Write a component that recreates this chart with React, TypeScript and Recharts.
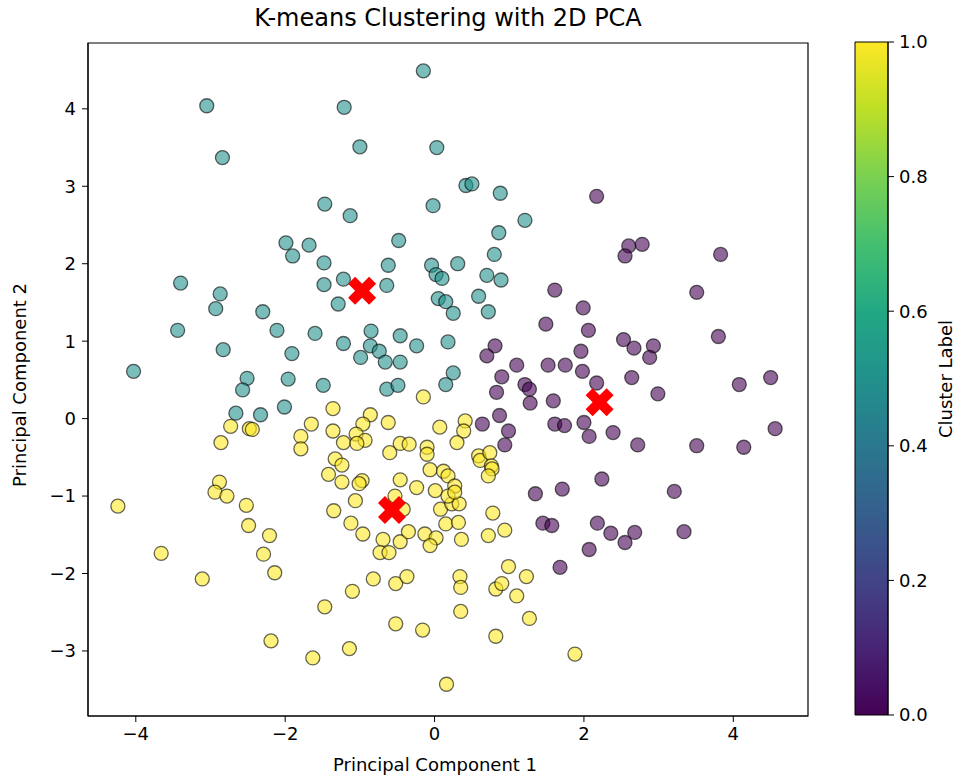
import React from 'react';
import {
  ScatterChart, Scatter, XAxis, YAxis, ReferenceArea,
  BarChart, Bar,
} from 'recharts';

// (PC1, PC2)
const purplePts: number[][] = [
  [1.61, 1.66], [1.49, 1.22], [0.81, 0.94], [0.70, 0.81], [1.10, 0.69], [1.52, 0.69], [1.75, 0.69],
  [0.90, 0.54], [1.21, 0.44], [1.27, 0.38], [0.83, 0.34], [1.28, 0.20], [1.59, 0.23], [0.87, 0.04],
  [0.64, -0.07], [0.99, -0.16], [0.94, -0.34], [1.61, -0.07], [1.74, -0.09], [1.35, -0.97], [1.71, -0.91],
  [3.51, 1.63], [1.99, 1.43], [2.06, 1.14], [2.53, 1.02], [2.67, 0.91], [2.93, 0.94], [2.88, 0.79],
  [3.80, 1.06], [1.96, 0.87], [1.98, 0.61], [2.17, 0.46], [2.64, 0.53], [2.99, 0.32], [4.08, 0.44],
  [4.50, 0.53], [2.00, -0.05], [2.07, -0.23], [2.39, -0.18], [2.72, -0.34], [3.51, -0.35], [4.14, -0.37],
  [4.56, -0.13], [2.24, -0.78], [3.21, -0.94], [2.17, 2.87], [2.60, 2.23], [2.55, 2.10], [2.78, 2.25],
  [3.83, 2.12], [2.18, -1.35], [2.36, -1.48], [2.68, -1.47], [2.55, -1.60], [2.07, -1.69], [3.34, -1.46],
  [1.68, -1.92], [1.45, -1.35], [1.57, -1.38],
];

const tealPts: number[][] = [
  [-0.15, 4.49], [-3.05, 4.04], [-2.84, 3.37], [-1.21, 4.02], [-1.00, 3.51], [0.03, 3.50], [0.42, 3.01],
  [0.50, 3.03], [0.88, 2.91], [-1.47, 2.77], [-1.13, 2.62], [-0.02, 2.75], [1.21, 2.56], [0.86, 2.40],
  [-0.48, 2.30], [0.80, 2.12], [-1.48, 2.01], [-0.62, 1.98], [-0.04, 1.98], [0.02, 1.86], [0.10, 1.81],
  [0.31, 2.00], [0.70, 1.85], [0.89, 1.79], [-1.99, 2.27], [-1.90, 2.10], [-1.68, 2.24], [-3.40, 1.75],
  [-2.87, 1.61], [-2.93, 1.42], [-2.30, 1.38], [-3.44, 1.14], [-2.11, 1.14], [-1.60, 1.10], [-2.83, 0.89],
  [-1.91, 0.84], [-4.03, 0.61], [-2.51, 0.52], [-2.57, 0.37], [-1.96, 0.51], [-1.49, 0.43], [-2.66, 0.07],
  [-2.33, 0.05], [-2.01, 0.15], [-1.48, 1.73], [-1.22, 1.80], [-0.64, 1.72], [-1.29, 1.48], [0.05, 1.55],
  [0.15, 1.51], [0.25, 1.36], [0.59, 1.58], [0.72, 1.38], [-0.85, 1.13], [-0.46, 1.07], [-1.22, 0.97],
  [-0.86, 0.94], [-0.74, 0.87], [-0.24, 0.94], [0.18, 0.99], [-0.99, 0.79], [-0.66, 0.73], [-0.46, 0.73],
  [0.25, 0.59], [0.15, 0.44], [-0.64, 0.38], [-0.49, 0.43],
];

const yellowPts: number[][] = [
  [-0.15, 0.28], [-1.36, 0.13], [-0.86, 0.05], [-0.96, -0.07], [-0.62, -0.05], [-1.36, -0.16], [-1.05, -0.20],
  [-0.93, -0.28], [-1.22, -0.31], [-1.04, -0.32], [0.07, -0.11], [0.41, -0.03], [0.39, -0.16], [0.30, -0.31],
  [-0.46, -0.32], [-0.34, -0.33], [-0.60, -0.44], [-0.10, -0.37], [-0.10, -0.46], [-1.33, -0.52], [-1.24, -0.60],
  [-1.42, -0.72], [-1.24, -0.82], [-0.97, -0.80], [-1.01, -0.84], [-0.46, -0.79], [-0.24, -0.89], [-0.06, -0.66],
  [0.12, -0.68], [0.18, -0.74], [0.27, -0.87], [0.01, -0.93], [0.59, -0.48], [0.61, -0.54], [0.74, -0.44],
  [0.76, -0.61], [0.77, -0.65], [0.72, -0.74], [-1.06, -1.06], [-1.35, -1.19], [-1.12, -1.35], [-0.96, -1.49],
  [-0.69, -1.56], [-0.73, -1.73], [-0.61, -1.73], [-0.46, -1.59], [-0.35, -1.46], [-0.42, -1.17], [-0.53, -1.00],
  [-0.13, -1.49], [0.02, -1.54], [-0.06, -1.64], [0.08, -1.17], [0.15, -1.36], [0.23, -1.10], [0.33, -1.10],
  [0.32, -1.34], [0.36, -1.56], [0.18, -1.00], [0.27, -0.95], [0.78, -1.22], [0.72, -1.51], [0.94, -1.44],
  [-0.82, -2.07], [-1.10, -2.23], [-1.47, -2.43], [-0.52, -2.13], [-0.37, -2.04], [0.34, -2.04], [0.35, -2.18],
  [0.35, -2.49], [0.82, -2.20], [0.90, -2.13], [0.99, -1.91], [1.10, -2.29], [1.23, -2.04], [1.27, -2.58],
  [-0.52, -2.65], [-0.16, -2.73], [0.82, -2.81], [-1.14, -2.97], [0.16, -3.43], [-1.63, -3.09], [1.88, -3.04],
  [-4.24, -1.13], [-3.66, -1.74], [-3.11, -2.07], [-2.88, -0.82], [-2.94, -0.95], [-2.78, -1.00], [-2.52, -1.12],
  [-2.49, -1.38], [-2.21, -1.51], [-2.29, -1.75], [-2.14, -1.99], [-2.19, -2.87], [-2.73, -0.10], [-2.48, -0.13],
  [-2.44, -0.14], [-2.86, -0.31], [-1.65, -0.07], [-1.79, -0.23], [-1.79, -0.39],
];

const centroids: number[][] = [[2.21, 0.21], [-0.97, 1.65], [-0.57, -1.18]];

const xTicks = [-4, -2, 0, 2, 4];
const yTicks = [-3, -2, -1, 0, 1, 2, 3, 4];
const cbTicks = [0, 0.2, 0.4, 0.6, 0.8, 1.0];
const viridisStops = ['#440154', '#482475', '#414487', '#355f8d', '#2a788e', '#21918c', '#22a884', '#44bf70', '#7ad151', '#bddf26', '#fde725'];

const X_MIN = -4.64;
const X_MAX = 5.0;
const Y_MIN = -3.84;
const Y_MAX = 4.85;

const font = '"DejaVu Sans", sans-serif';
const toPts = (arr: number[][]) => arr.map(([x, y]) => ({ x, y }));
const minus = (v: number) => String(v).replace('-', '\u2212');

const dot = (color: string) => (p: any) => (
  <circle cx={p.cx} cy={p.cy} r={7} fill={color} fillOpacity={0.6}
    stroke="#000" strokeOpacity={0.6} strokeWidth={1.3} />
);

const cross = (p: any) => {
  const s = 28;
  const u = [[-0.25, -0.5], [0, -0.25], [0.25, -0.5], [0.5, -0.25], [0.25, 0], [0.5, 0.25],
    [0.25, 0.5], [0, 0.25], [-0.25, 0.5], [-0.5, 0.25], [-0.25, 0], [-0.5, -0.25]];
  const d = u.map(([a, b], i) => `${i ? 'L' : 'M'}${p.cx + a * s},${p.cy + b * s}`).join(' ') + 'Z';
  return <path d={d} fill="#ff0000" />;
};

const tickStyle = { fill: '#000', fontSize: 18, fontFamily: font };

const App: React.FC = () => {
  return (
    <div style={{ position: 'absolute', left: 0, top: 0, width: 957, height: 779, background: '#fff', fontFamily: font, color: '#000', overflow: 'hidden' }}>
      <ScatterChart width={957} height={779} margin={{ top: 43, right: 149, bottom: 0, left: 0 }}>
        <XAxis type="number" dataKey="x" domain={[X_MIN, X_MAX]} ticks={xTicks} allowDataOverflow
          height={63} tickSize={6} tickMargin={5} stroke="#000" tick={tickStyle} tickFormatter={minus} />
        <YAxis type="number" dataKey="y" domain={[Y_MIN, Y_MAX]} ticks={yTicks} allowDataOverflow
          width={88} tickSize={6} tickMargin={6} stroke="#000" tick={tickStyle} tickFormatter={minus} />
        <Scatter data={toPts(purplePts)} shape={dot('#440154')} isAnimationActive={false} />
        <Scatter data={toPts(tealPts)} shape={dot('#21918c')} isAnimationActive={false} />
        <Scatter data={toPts(yellowPts)} shape={dot('#fde725')} isAnimationActive={false} />
        <Scatter data={toPts(centroids)} shape={cross} isAnimationActive={false} />
        <ReferenceArea x1={X_MIN} x2={X_MAX} y1={Y_MIN} y2={Y_MAX} fill="none" stroke="#000" strokeWidth={1.2} ifOverflow="visible" />
      </ScatterChart>

      <div style={{ position: 'absolute', left: 840, top: 0 }}>
        <BarChart width={117} height={779} data={[{ k: 'c', v: 1 }]} barCategoryGap={0}
          margin={{ top: 42, right: 0, bottom: 64, left: 15 }}>
          <defs>
            <linearGradient id="viridis" x1="0" y1="1" x2="0" y2="0">
              {viridisStops.map((c, i) => (
                <stop key={c} offset={i / (viridisStops.length - 1)} stopColor={c} />
              ))}
            </linearGradient>
          </defs>
          <XAxis dataKey="k" hide />
          <YAxis orientation="right" type="number" domain={[0, 1]} ticks={cbTicks} width={69}
            tickSize={6} tickMargin={5} stroke="#000" tick={tickStyle} tickFormatter={(v: number) => v.toFixed(1)} />
          <Bar dataKey="v" fill="url(#viridis)" stroke="#000" strokeWidth={1} isAnimationActive={false} />
        </BarChart>
      </div>

      <div style={{ position: 'absolute', left: 88, width: 720, top: 4, fontSize: 24, lineHeight: '28px', textAlign: 'center' }}>
        K-means Clustering with 2D PCA
      </div>
      <div style={{ position: 'absolute', left: 235, width: 400, top: 754, fontSize: 18, lineHeight: '22px', textAlign: 'center' }}>
        Principal Component 1
      </div>
      <div style={{ position: 'absolute', left: -180, top: 374, width: 400, height: 22, fontSize: 18, lineHeight: '22px', textAlign: 'center', transform: 'rotate(-90deg)' }}>
        Principal Component 2
      </div>
      <div style={{ position: 'absolute', left: 746, top: 368, width: 400, height: 22, fontSize: 18, lineHeight: '22px', textAlign: 'center', transform: 'rotate(-90deg)' }}>
        Cluster Label
      </div>
    </div>
  );
};

export default App;
